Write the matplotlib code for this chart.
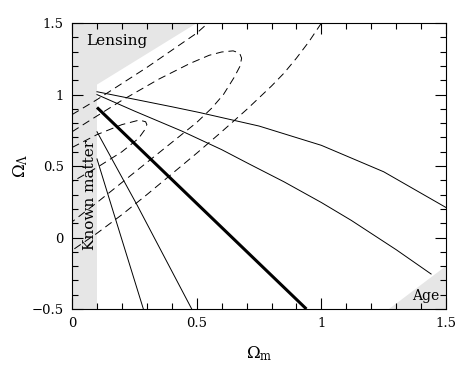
import matplotlib
matplotlib.use("Agg")
import matplotlib.pyplot as plt
from matplotlib.ticker import MultipleLocator, FuncFormatter

# excluded regions (shaded)
known_x = [0.0, 0.1, 0.1, 0.5, 0.0]
known_y = [-0.5, -0.5, 1.07, 1.5, 1.5]
age_x = [1.27, 1.5, 1.5]
age_y = [-0.5, -0.5, -0.2]

# thick line
thick_x = [0.10, 0.94]
thick_y = [0.91, -0.50]

# thin solid curves
s1_x = [0.10, 0.20, 0.30, 0.40, 0.51, 0.75, 1.00, 1.25, 1.50]
s1_y = [1.02, 0.985, 0.95, 0.915, 0.875, 0.78, 0.645, 0.46, 0.21]
s2_x = [0.10, 0.25, 0.44, 0.60, 0.71, 0.85, 1.00, 1.12, 1.30, 1.44]
s2_y = [1.00, 0.885, 0.745, 0.615, 0.515, 0.39, 0.245, 0.12, -0.085, -0.255]
s3_x = [0.10, 0.16, 0.286]
s3_y = [0.55, 0.21, -0.50]
s4_x = [0.10, 0.26, 0.48]
s4_y = [0.74, 0.23, -0.50]

# dashed confidence contours
d1_x = [0.0, 0.10, 0.20, 0.27, 0.295, 0.30, 0.29, 0.267, 0.20, 0.10, 0.0]
d1_y = [0.63, 0.72, 0.79, 0.822, 0.81, 0.79, 0.75, 0.694, 0.60, 0.49, 0.39]
d2_x = [0.0, 0.072, 0.20, 0.35, 0.473, 0.55, 0.60, 0.646, 0.672, 0.68, 0.674,
        0.65, 0.607, 0.56, 0.50, 0.40, 0.30, 0.20, 0.10, 0.0]
d2_y = [0.74, 0.82, 0.96, 1.11, 1.218, 1.275, 1.298, 1.306, 1.29, 1.255, 1.20,
        1.12, 1.00, 0.905, 0.805, 0.665, 0.525, 0.385, 0.245, 0.11]
d3a_x = [0.0, 0.10, 0.30, 0.50, 0.545]
d3a_y = [0.86, 0.965, 1.19, 1.43, 1.50]
d3b_x = [1.0, 0.95, 0.90, 0.85, 0.80, 0.70, 0.60, 0.50, 0.40, 0.30, 0.20, 0.10, 0.0]
d3b_y = [1.5, 1.37, 1.255, 1.15, 1.06, 0.895, 0.74, 0.59, 0.445, 0.30, 0.16, 0.03, -0.09]

plt.rcParams['font.family'] = ['DejaVu Serif']
plt.rcParams['mathtext.fontset'] = 'dejavuserif'

fig = plt.figure(figsize=(4.71, 3.67), dpi=100)
ax = fig.add_axes([0.153, 0.158, 0.794, 0.779])

gray = '#e6e6e6'
ax.fill(known_x, known_y, color=gray, lw=0, zorder=0)
ax.fill(age_x, age_y, color=gray, lw=0, zorder=0)

dash = (0, (8, 5))
for xs, ys in [(d1_x, d1_y), (d2_x, d2_y), (d3a_x, d3a_y), (d3b_x, d3b_y)]:
    ax.plot(xs, ys, color='black', lw=0.7, linestyle=dash)
for xs, ys in [(s1_x, s1_y), (s2_x, s2_y), (s3_x, s3_y), (s4_x, s4_y)]:
    ax.plot(xs, ys, color='black', lw=0.7)
ax.plot(thick_x, thick_y, color='black', lw=2.2, solid_capstyle='butt')

ax.text(0.058, 1.375, 'Lensing', fontsize=11, va='center', ha='left')
ax.text(0.07, 0.30, 'Known matter', fontsize=11, rotation=90, va='center', ha='center')
ax.text(1.42, -0.41, 'Age', fontsize=10, va='center', ha='center')

ax.set_xlim(0, 1.5)
ax.set_ylim(-0.5, 1.5)
ax.xaxis.set_major_locator(MultipleLocator(0.5))
ax.xaxis.set_minor_locator(MultipleLocator(0.1))
ax.yaxis.set_major_locator(MultipleLocator(0.5))
ax.yaxis.set_minor_locator(MultipleLocator(0.1))
fmt = FuncFormatter(lambda v, p: ('%g' % v).replace('-', '\u2212'))
ax.xaxis.set_major_formatter(fmt)
ax.yaxis.set_major_formatter(fmt)
ax.tick_params(which='both', direction='in', top=True, right=True, width=0.8,
               labelsize=9.5, colors='black')
ax.tick_params(which='major', length=8, pad=6)
ax.tick_params(which='minor', length=4)
for sp in ax.spines.values():
    sp.set_linewidth(0.8)

ax.set_xlabel(r'$\Omega_{\rm m}$', fontsize=12)
ax.set_ylabel(r'$\Omega_\Lambda$', fontsize=12)
ax.xaxis.set_label_coords(0.5, -0.125)
ax.yaxis.set_label_coords(-0.112, 0.5)

fig.savefig('out.png', dpi=100)
